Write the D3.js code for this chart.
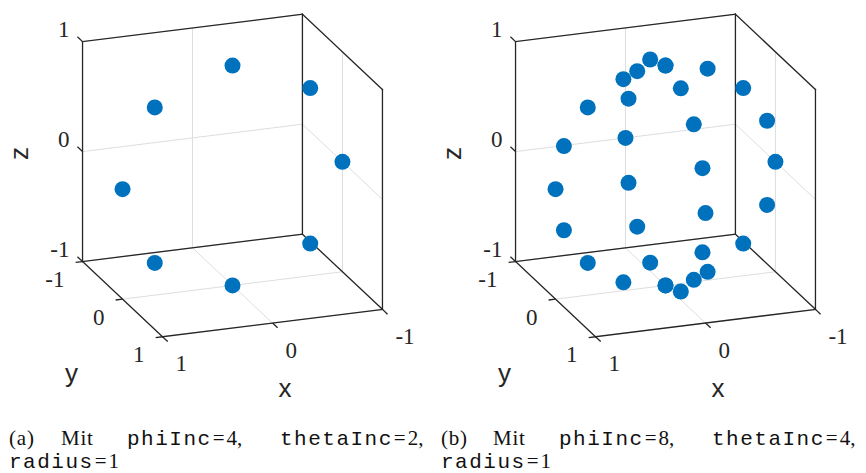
<!DOCTYPE html>
<html>
<head>
<meta charset="utf-8">
<script src="https://cdn.jsdelivr.net/npm/d3@7"></script>
<style>
  body { margin: 0; background: #fff; }
  svg { display: block; }
</style>
</head>
<body>
<svg id="chart" width="866" height="473"></svg>
<script>
// ---- data -------------------------------------------------------------
const tickValues = [-1, 0, 1];
const tickLabels = ["-1", "0", "1"];

// (a) phiInc=4, thetaInc=2: eight points on the x-z great circle
const aX = [1, 0.707, 0, -0.707, -1, -0.707, 0, 0.707];
const aY = [0, 0, 0, 0, 0, 0, 0, 0];
const aZ = [0, 0.707, 1, 0.707, 0, -0.707, -1, -0.707];

// (b) phiInc=8, thetaInc=4: sixteen points on the x-z circle, sixteen on the y-z circle
const bX = [1, 0.924, 0.707, 0.383, 0, -0.383, -0.707, -0.924, -1, -0.924, -0.707, -0.383, 0, 0.383, 0.707, 0.924,
            0, 0, 0, 0, 0, 0, 0, 0, 0, 0, 0, 0, 0, 0, 0, 0];
const bY = [0, 0, 0, 0, 0, 0, 0, 0, 0, 0, 0, 0, 0, 0, 0, 0,
            1, 0.924, 0.707, 0.383, 0, -0.383, -0.707, -0.924, -1, -0.924, -0.707, -0.383, 0, 0.383, 0.707, 0.924];
const bZ = [0, 0.383, 0.707, 0.924, 1, 0.924, 0.707, 0.383, 0, -0.383, -0.707, -0.924, -1, -0.924, -0.707, -0.383,
            0, 0.383, 0.707, 0.924, 1, 0.924, 0.707, 0.383, 0, -0.383, -0.707, -0.924, -1, -0.924, -0.707, -0.383];

// captions: each word is [roman text, typewriter name, value after "="]
const captionA1 = [["(a)", "", ""], ["Mit", "", ""], ["", "phiInc", "4,"], ["", "thetaInc", "2,"]];
const captionB1 = [["(b)", "", ""], ["Mit", "", ""], ["", "phiInc", "8,"], ["", "thetaInc", "4,"]];
const captionLine2 = [["", "radius", "1"]];

// ---- view -------------------------------------------------------------
const viewAz = 160, viewEl = 20;
const S = 117;               // pixels per data unit
const CY = 175.5;
const panels = [
  { cx: 232.5, xs: aX, ys: aY, zs: aZ, ox: 0, cap: captionA1 },
  { cx: 665.5, xs: bX, ys: bY, zs: bZ, ox: 432, cap: captionB1 }
];

const az = viewAz * Math.PI / 180, el = viewEl * Math.PI / 180;
const right = [Math.cos(az), Math.sin(az), 0];
const up = [-Math.sin(el) * Math.sin(az), Math.sin(el) * Math.cos(az), Math.cos(el)];

const xScale = d3.scaleLinear().domain([-1, 1]).range([-1, 1]);
const yScale = d3.scaleLinear().domain([-1, 1]).range([-1, 1]);
const zScale = d3.scaleLinear().domain([-1, 1]).range([-1, 1]);

const svg = d3.select("#chart");
const AXIS = "#262626", GRID = "#dedede", DOT = "#0072BD";
const SERIF = "'Liberation Serif', 'DejaVu Serif', serif";
const SANS = "'Liberation Sans', Arial, sans-serif";
const MONO = "'Liberation Mono', 'DejaVu Sans Mono', monospace";

function makeProj(cx) {
  return function (x, y, z) {
    const X = xScale(x), Y = yScale(y), Z = zScale(z);
    return [cx + S * (X * right[0] + Y * right[1] + Z * right[2]),
            CY - S * (X * up[0] + Y * up[1] + Z * up[2])];
  };
}
function screenDir(v) {
  const dx = S * (v[0] * right[0] + v[1] * right[1] + v[2] * right[2]);
  const dy = -S * (v[0] * up[0] + v[1] * up[1] + v[2] * up[2]);
  const n = Math.hypot(dx, dy);
  return [dx / n, dy / n];
}

panels.forEach(p => {
  const proj = makeProj(p.cx);
  const g = svg.append("g");
  const [lo, hi] = xScale.domain();

  // grid on back walls (y = lo, x = lo) and floor (z = lo)
  const gridSegs = [];
  tickValues.forEach(t => {
    gridSegs.push([[t, lo, lo], [t, lo, hi]]);   // back wall, vertical
    gridSegs.push([[hi, lo, t], [lo, lo, t]]);   // back wall, horizontal
    gridSegs.push([[lo, t, lo], [lo, t, hi]]);   // side wall, vertical
    gridSegs.push([[lo, lo, t], [lo, hi, t]]);   // side wall, horizontal
    gridSegs.push([[t, lo, lo], [t, hi, lo]]);   // floor, along y
    gridSegs.push([[hi, t, lo], [lo, t, lo]]);   // floor, along x
  });
  g.append("g").selectAll("line").data(gridSegs).join("line")
    .attr("x1", d => proj(...d[0])[0]).attr("y1", d => proj(...d[0])[1])
    .attr("x2", d => proj(...d[1])[0]).attr("y2", d => proj(...d[1])[1])
    .attr("stroke", GRID).attr("stroke-width", 1);

  // box edges
  const A = [hi, lo, lo], B = [hi, hi, lo], C = [lo, hi, lo], D = [lo, lo, lo];
  const At = [hi, lo, hi], Ct = [lo, hi, hi], Dt = [lo, lo, hi];
  const edges = [[A, At], [At, Dt], [Dt, Ct], [Ct, C], [D, Dt], [A, D], [D, C], [A, B], [B, C]];
  g.append("g").selectAll("line").data(edges).join("line")
    .attr("x1", d => proj(...d[0])[0]).attr("y1", d => proj(...d[0])[1])
    .attr("x2", d => proj(...d[1])[0]).attr("y2", d => proj(...d[1])[1])
    .attr("stroke", AXIS).attr("stroke-width", 1.3).attr("stroke-linecap", "square");

  // ticks and tick labels
  const TL = 7;
  const zDir = screenDir([0, -1, 0]), yDir = screenDir([1, 0, 0]), xDir = screenDir([0, 1, 0]);
  const axes = [
    { pos: t => [hi, lo, t], dir: zDir, dx: -13, dy: -12, anchor: "end" },
    { pos: t => [hi, t, lo], dir: yDir, dx: -18, dy: 18, anchor: "end" },
    { pos: t => [t, hi, lo], dir: xDir, dx: 13, dy: 27, anchor: "start" }
  ];
  axes.forEach(ax => {
    tickValues.forEach((t, i) => {
      const [px, py] = proj(...ax.pos(t));
      g.append("line").attr("x1", px).attr("y1", py)
        .attr("x2", px + ax.dir[0] * TL).attr("y2", py + ax.dir[1] * TL)
        .attr("stroke", AXIS).attr("stroke-width", 1.3);
      g.append("text").attr("x", px + ax.dx).attr("y", py + ax.dy)
        .attr("text-anchor", ax.anchor).attr("dominant-baseline", "central")
        .attr("font-family", SERIF).attr("font-size", 23).attr("fill", AXIS)
        .text(tickLabels[i]);
    });
  });

  // axis labels
  const lab = (x, y, t, rot) => {
    const tx = g.append("text").attr("text-anchor", "middle")
      .attr("font-family", SANS).attr("font-size", 26).attr("fill", AXIS).text(t);
    tx.attr("transform", `translate(${x},${y})` + (rot ? ` rotate(${rot})` : ""));
  };
  lab(p.cx + 52.5, 397, "x");
  lab(p.cx - 161, 382, "y");
  lab(p.cx - 204.5, 153.5, "z", -90);

  // points
  const pts = p.xs.map((x, i) => proj(x, p.ys[i], p.zs[i]));
  g.append("g").selectAll("circle").data(pts).join("circle")
    .attr("cx", d => d[0]).attr("cy", d => d[1]).attr("r", 8)
    .attr("fill", DOT);

  // caption (justified first line, words at fixed starts)
  const capPos1 = [9, 61, 127, 280];
  const writeLine = (words, xs, y) => {
    words.forEach((w, i) => {
      const t = svg.append("text").attr("x", xs[i] + p.ox).attr("y", y)
        .attr("font-family", SERIF).attr("font-size", 21).attr("fill", "#111");
      if (w[0]) t.append("tspan").attr("letter-spacing", 0.8).text(w[0]);
      if (w[1]) t.append("tspan").attr("font-family", MONO).attr("letter-spacing", 1.5).text(w[1]);
      if (w[2]) {
        t.append("tspan").attr("dx", 1).text("=");
        t.append("tspan").attr("dx", 2).text(w[2]);
      }
    });
  };
  writeLine(p.cap, capPos1, 445);
  writeLine(captionLine2, [9], 468);
});
</script>
</body>
</html>
